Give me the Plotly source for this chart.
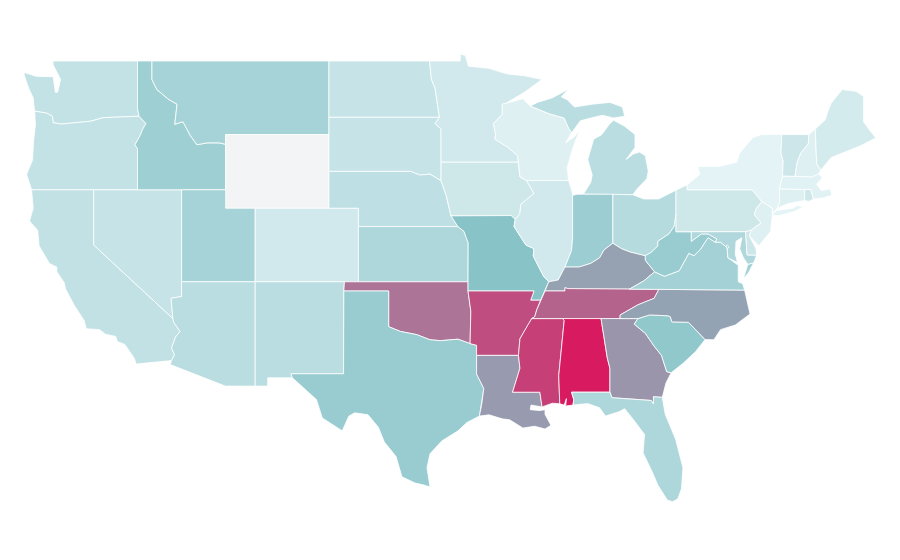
"""Choropleth of the lower 48 states, drawn as filled traces on linear lon/lat axes.

The sandbox cannot fetch plotly's topojson, so the state outlines below are
simplified lon/lat boundaries written out by hand, not survey data.
"""
import plotly.graph_objects as go
from plotly.colors import sample_colorscale

states = ['WA', 'OR', 'CA', 'NV', 'ID', 'MT', 'WY', 'UT', 'AZ', 'CO', 'NM', 'ND', 'SD', 'NE', 'KS', 'OK', 'TX',
          'MN', 'IA', 'MO', 'AR', 'LA', 'WI', 'IL', 'MS', 'MI', 'IN', 'KY', 'TN', 'AL', 'OH', 'GA', 'FL', 'SC',
          'NC', 'VA', 'WV', 'PA', 'NY', 'MD', 'DE', 'NJ', 'CT', 'RI', 'MA', 'VT', 'NH', 'ME', 'DC']
values = [17, 17, 18, 16, 31, 28, 0, 28, 21, 12, 21, 16, 16, 19, 25, 68, 33,
          12, 13, 39, 82, 54, 7, 12, 87, 21, 32, 52, 74, 100, 22, 56, 25, 36,
          51, 29, 33, 13, 5, 24, 14, 7, 7, 13, 6, 14, 7, 11, 24]
color_stops = [[0, '#f3f4f6'], [0.05, '#e4f3f5'], [0.4, '#85c2c7'], [1, '#d81b60']]

outlines = {
    'WA': [[(-122.76, 49), (-117.03, 49), (-117.03, 46.42), (-116.92, 46), (-119, 45.93), (-119.3, 45.93), (-120.2, 45.73), (-121.2, 45.65), (-122.2, 45.57), (-122.75, 45.65), (-122.8, 46), (-123.2, 46.17), (-124, 46.27), (-124.07, 46.7), (-124.1, 47), (-124.4, 47.5), (-124.7, 48.2), (-124.72, 48.38), (-123.9, 48.17), (-123.1, 48.15), (-122.75, 48.15), (-122.6, 47.3), (-122.45, 47.3), (-122.35, 47.6), (-122.25, 48), (-122.5, 48.4), (-122.75, 48.8)]],
    'OR': [[(-124, 46.27), (-123.2, 46.17), (-122.8, 46), (-122.75, 45.65), (-122.2, 45.57), (-121.2, 45.65), (-120.2, 45.73), (-119.3, 45.93), (-119, 45.93), (-116.92, 46), (-116.46, 45.6), (-116.67, 45.3), (-116.85, 44.95), (-117.2, 44.45), (-117.03, 44.23), (-117.03, 42), (-124.21, 42), (-124.55, 42.84), (-124.15, 43.6), (-124.07, 44.7), (-123.95, 45.5)]],
    'CA': [[(-124.21, 42), (-120, 42), (-120, 39), (-114.63, 35), (-114.57, 34.8), (-114.14, 34.3), (-114.45, 34), (-114.72, 33.4), (-114.52, 33.03), (-114.72, 32.72), (-117.12, 32.53), (-117.25, 32.85), (-117.9, 33.6), (-118.4, 33.75), (-118.5, 34.03), (-119.2, 34.15), (-119.6, 34.4), (-120.5, 34.45), (-120.65, 34.9), (-121.3, 35.7), (-121.9, 36.6), (-122, 36.95), (-122.5, 37.55), (-122.5, 37.8), (-123, 38), (-123.7, 38.95), (-123.8, 39.8), (-124.35, 40.3), (-124.1, 41)]],
    'NV': [[(-120, 42), (-114.04, 42), (-114.04, 36.2), (-114.75, 36.1), (-114.63, 35), (-120, 39)]],
    'ID': [[(-117.03, 49), (-116.05, 49), (-116.05, 48), (-115.72, 47.45), (-114.95, 46.93), (-114.35, 46.65), (-114.5, 45.56), (-113.95, 45.7), (-113.45, 44.95), (-113, 44.45), (-112.3, 44.55), (-111.5, 44.55), (-111.05, 44.47), (-111.05, 42), (-117.03, 42), (-117.03, 44.23), (-117.2, 44.45), (-116.85, 44.95), (-116.67, 45.3), (-116.46, 45.6), (-116.92, 46), (-117.03, 46.42)]],
    'MT': [[(-116.05, 49), (-104.05, 49), (-104.05, 45), (-111.05, 45), (-111.05, 44.47), (-111.5, 44.55), (-112.3, 44.55), (-113, 44.45), (-113.45, 44.95), (-113.95, 45.7), (-114.5, 45.56), (-114.35, 46.65), (-114.95, 46.93), (-115.72, 47.45), (-116.05, 48)]],
    'WY': [[(-111.05, 45), (-104.05, 45), (-104.05, 41), (-111.05, 41)]],
    'UT': [[(-114.04, 42), (-111.05, 42), (-111.05, 41), (-109.05, 41), (-109.05, 37), (-114.04, 37)]],
    'AZ': [[(-114.04, 37), (-109.05, 37), (-109.05, 31.33), (-111.07, 31.33), (-114.81, 32.5), (-114.72, 32.72), (-114.52, 33.03), (-114.72, 33.4), (-114.45, 34), (-114.14, 34.3), (-114.57, 34.8), (-114.63, 35), (-114.75, 36.1), (-114.04, 36.2)]],
    'CO': [[(-109.05, 41), (-102.05, 41), (-102.05, 37), (-109.05, 37)]],
    'NM': [[(-109.05, 37), (-103, 37), (-103.04, 36.5), (-103.06, 32), (-106.62, 32), (-106.53, 31.78), (-108.2, 31.78), (-108.2, 31.33), (-109.05, 31.33)]],
    'ND': [[(-104.05, 49), (-97.23, 49), (-97.1, 48), (-96.85, 47.5), (-96.56, 45.94), (-104.05, 45.94)]],
    'SD': [[(-104.05, 45.94), (-96.56, 45.94), (-96.85, 45.6), (-96.45, 45.3), (-96.45, 43.5), (-96.45, 42.49), (-97.2, 42.85), (-97.9, 42.8), (-98.5, 43), (-104.05, 43)]],
    'NE': [[(-104.05, 43), (-98.5, 43), (-97.9, 42.8), (-97.2, 42.85), (-96.45, 42.49), (-96.1, 41.7), (-95.9, 41), (-95.77, 40.58), (-95.31, 40), (-102.05, 40), (-102.05, 41), (-104.05, 41)]],
    'KS': [[(-102.05, 40), (-95.31, 40), (-94.9, 39.75), (-94.61, 39.11), (-94.62, 37), (-102.05, 37)]],
    'OK': [[(-103, 37), (-94.62, 37), (-94.62, 36.5), (-94.43, 35.4), (-94.48, 33.64), (-95.3, 33.88), (-96.5, 33.8), (-97.2, 33.85), (-98.1, 34.13), (-99.2, 34.3), (-100, 34.56), (-100, 36.5), (-103.04, 36.5)]],
    'TX': [[(-103.04, 36.5), (-100, 36.5), (-100, 34.56), (-99.2, 34.3), (-98.1, 34.13), (-97.2, 33.85), (-96.5, 33.8), (-95.3, 33.88), (-94.48, 33.64), (-94.04, 33.55), (-94.04, 33), (-94.04, 31.99), (-93.55, 31.2), (-93.7, 30.3), (-93.85, 29.7), (-94.7, 29.35), (-95.3, 28.9), (-96.4, 28.35), (-97.2, 27.65), (-97.4, 26.9), (-97.2, 25.85), (-97.6, 25.95), (-98.2, 26.06), (-99.1, 26.4), (-99.5, 27.5), (-100.3, 28.3), (-100.7, 29.1), (-101.4, 29.77), (-102.3, 29.88), (-102.7, 29.7), (-103.15, 28.9), (-104.5, 29.6), (-104.9, 30.6), (-106, 31.4), (-106.53, 31.78), (-106.62, 32), (-103.06, 32)]],
    'MN': [[(-97.23, 49), (-95.15, 49), (-95.15, 49.38), (-94.8, 49.3), (-94.6, 48.72), (-93.2, 48.6), (-92, 48.3), (-90.8, 48.2), (-89.6, 48), (-90.8, 47.3), (-92.05, 46.7), (-92.3, 46.65), (-92.3, 46.1), (-92.9, 45.6), (-92.75, 45), (-92.8, 44.75), (-91.9, 44.3), (-91.25, 43.85), (-91.22, 43.5), (-96.45, 43.5), (-96.45, 45.3), (-96.85, 45.6), (-96.56, 45.94), (-96.85, 47.5), (-97.1, 48)]],
    'IA': [[(-96.45, 43.5), (-91.22, 43.5), (-91.1, 42.7), (-90.65, 42.5), (-90.15, 41.8), (-91.05, 41.2), (-91.1, 40.7), (-91.42, 40.38), (-91.7, 40.6), (-95.77, 40.58), (-95.9, 41), (-96.1, 41.7), (-96.45, 42.49)]],
    'MO': [[(-95.77, 40.58), (-91.7, 40.6), (-91.42, 40.38), (-91.5, 40), (-90.7, 39), (-90.15, 38.8), (-90.2, 38.4), (-89.5, 37.3), (-89.15, 37), (-89.4, 36.5), (-89.7, 36), (-90.37, 36), (-90.15, 36.5), (-94.62, 36.5), (-94.62, 37), (-94.61, 39.11), (-94.9, 39.75), (-95.31, 40)]],
    'AR': [[(-94.62, 36.5), (-90.15, 36.5), (-90.37, 36), (-89.7, 36), (-89.95, 35.5), (-90.1, 35.1), (-90.3, 35), (-90.6, 34.6), (-91.1, 33.9), (-91.2, 33), (-94.04, 33), (-94.04, 33.55), (-94.48, 33.64), (-94.43, 35.4)]],
    'LA': [[(-94.04, 33), (-91.2, 33), (-91.1, 32.3), (-91.6, 31), (-89.75, 31), (-89.6, 30.2), (-90.35, 30.3), (-90.4, 30.05), (-89.75, 30), (-89.4, 30.05), (-89.4, 29.8), (-89, 29.2), (-89.4, 29), (-90.1, 29.15), (-90.9, 29.05), (-91.8, 29.5), (-92.3, 29.55), (-93.2, 29.77), (-93.85, 29.7), (-93.7, 30.3), (-93.55, 31.2), (-94.04, 31.99)]],
    'WI': [[(-92.75, 45), (-92.9, 45.6), (-92.3, 46.1), (-92.3, 46.65), (-92.05, 46.7), (-90.9, 46.95), (-90.4, 46.55), (-89.1, 46.13), (-88.1, 45.9), (-87.8, 45.35), (-87.6, 45.1), (-88, 44.55), (-87.4, 44.9), (-87.05, 45.25), (-87.5, 44.3), (-87.9, 43.2), (-87.8, 42.5), (-90.65, 42.5), (-91.1, 42.7), (-91.22, 43.5), (-91.25, 43.85), (-91.9, 44.3), (-92.8, 44.75)]],
    'IL': [[(-91.42, 40.38), (-91.1, 40.7), (-91.05, 41.2), (-90.15, 41.8), (-90.65, 42.5), (-87.8, 42.5), (-87.55, 41.85), (-87.53, 41.7), (-87.53, 39.35), (-87.6, 38.7), (-88.05, 37.8), (-88.5, 37.1), (-89.15, 37), (-89.5, 37.3), (-90.2, 38.4), (-90.15, 38.8), (-90.7, 39), (-91.5, 40)]],
    'MS': [[(-90.3, 35), (-88.2, 35), (-88.1, 34.9), (-88.47, 31.9), (-88.4, 30.37), (-88.9, 30.4), (-89.6, 30.2), (-89.75, 31), (-91.6, 31), (-91.1, 32.3), (-91.2, 33), (-91.1, 33.9), (-90.6, 34.6)]],
    'MI': [[(-86.8, 41.76), (-84.8, 41.76), (-83.45, 41.73), (-83.15, 42.05), (-82.5, 42.6), (-82.4, 43), (-82.6, 43.85), (-83, 44.05), (-83.4, 43.95), (-83.9, 43.65), (-83.3, 44.3), (-83.3, 45), (-84, 45.45), (-84.75, 45.78), (-85, 45.6), (-85.55, 45), (-86.1, 44.75), (-86.5, 43.65), (-86.2, 42.8), (-86.3, 42.4)],
           [(-90.4, 46.55), (-89.1, 46.13), (-88.1, 45.9), (-87.8, 45.35), (-87.6, 45.1), (-87, 45.75), (-86.3, 45.9), (-85.5, 46.05), (-84.75, 45.9), (-84, 46), (-84.15, 46.5), (-85, 46.75), (-86.2, 46.65), (-87.4, 46.5), (-87.9, 46.9), (-88.3, 47.05), (-87.8, 47.47), (-88.45, 47.2), (-88.9, 47), (-89.9, 46.75)]],
    'IN': [[(-87.53, 41.7), (-87.2, 41.76), (-86.8, 41.76), (-84.8, 41.76), (-84.8, 39.1), (-85.4, 38.73), (-85.7, 38.3), (-86.3, 38), (-87.1, 37.8), (-88.05, 37.8), (-87.6, 38.7), (-87.53, 39.35)]],
    'KY': [[(-89.4, 36.5), (-89.15, 37), (-88.5, 37.1), (-88.05, 37.8), (-87.1, 37.8), (-86.3, 38), (-85.7, 38.3), (-85.4, 38.73), (-84.8, 39.1), (-84.2, 38.8), (-83.65, 38.63), (-82.6, 38.42), (-82.6, 38.17), (-81.97, 37.54), (-82.7, 37.05), (-83.68, 36.6), (-87.85, 36.63), (-88.05, 36.68), (-88.05, 36.5)]],
    'TN': [[(-90.3, 35), (-90.1, 35.1), (-89.95, 35.5), (-89.7, 36), (-89.4, 36.5), (-88.05, 36.5), (-88.05, 36.68), (-87.85, 36.63), (-83.68, 36.6), (-81.68, 36.59), (-82, 36.1), (-83.1, 35.75), (-84.3, 35.2), (-84.32, 35), (-85.6, 35), (-88.2, 35)]],
    'AL': [[(-88.2, 35), (-85.6, 35), (-85.18, 32.87), (-85, 32.3), (-85, 31), (-87.6, 31), (-87.45, 30.6), (-87.5, 30.3), (-88, 30.25), (-87.95, 30.65), (-88.1, 30.3), (-88.4, 30.37), (-88.47, 31.9), (-88.1, 34.9)]],
    'OH': [[(-84.8, 41.76), (-83.45, 41.73), (-82.7, 41.5), (-81.7, 41.5), (-80.52, 41.98), (-80.52, 40.64), (-80.65, 40), (-81, 39.6), (-81.75, 39.2), (-81.75, 38.95), (-82.2, 38.6), (-82.6, 38.42), (-83.65, 38.63), (-84.2, 38.8), (-84.8, 39.1)]],
    'GA': [[(-85.6, 35), (-84.32, 35), (-83.1, 35), (-83.35, 34.7), (-82.6, 34.2), (-82, 33.5), (-81.5, 33), (-81.15, 32.12), (-80.85, 32.05), (-81.2, 31.5), (-81.45, 30.72), (-82.05, 30.75), (-82.05, 30.36), (-82.2, 30.55), (-84.86, 30.7), (-85, 31), (-85, 32.3), (-85.18, 32.87)]],
    'FL': [[(-87.6, 31), (-85, 31), (-84.86, 30.7), (-82.2, 30.55), (-82.05, 30.36), (-82.05, 30.75), (-81.45, 30.72), (-81.25, 29.8), (-80.55, 28.45), (-80.05, 26.9), (-80.15, 25.75), (-80.4, 25.2), (-80.75, 25.05), (-81.1, 25.13), (-81.75, 25.95), (-82.15, 26.7), (-82.75, 27.7), (-82.65, 28.7), (-83.4, 29.5), (-84, 30.1), (-84.35, 29.95), (-85.3, 29.7), (-85.7, 30.15), (-86.5, 30.38), (-87.5, 30.3), (-87.45, 30.6)]],
    'SC': [[(-83.1, 35), (-82.3, 35.2), (-81.05, 35.15), (-80.9, 35.1), (-80.8, 34.82), (-79.67, 34.8), (-78.55, 33.86), (-79.2, 33.2), (-80, 32.6), (-80.85, 32.05), (-81.15, 32.12), (-81.5, 33), (-82, 33.5), (-82.6, 34.2), (-83.35, 34.7)]],
    'NC': [[(-84.32, 35), (-84.3, 35.2), (-83.1, 35.75), (-82, 36.1), (-81.68, 36.59), (-75.87, 36.55), (-75.5, 35.25), (-76.5, 34.65), (-77.5, 34.4), (-77.95, 33.85), (-78.55, 33.86), (-79.67, 34.8), (-80.8, 34.82), (-80.9, 35.1), (-81.05, 35.15), (-82.3, 35.2), (-83.1, 35)]],
    'VA': [[(-83.68, 36.6), (-81.68, 36.59), (-75.87, 36.55), (-76, 36.9), (-76.3, 37), (-76.3, 37.9), (-77, 38.3), (-77.05, 38.85), (-77.5, 39.15), (-77.85, 39.15), (-78.35, 39.4), (-78.87, 38.76), (-79.3, 38.42), (-79.65, 38.55), (-80.3, 37.6), (-81.3, 37.3), (-81.97, 37.54), (-82.7, 37.05)],
           [(-75.95, 37.15), (-75.65, 37.95), (-75.25, 38.03), (-75.6, 37.5)]],
    'WV': [[(-80.52, 40.64), (-80.52, 39.72), (-79.48, 39.72), (-79.48, 39.2), (-78.8, 39.6), (-78.35, 39.6), (-77.75, 39.33), (-77.85, 39.15), (-78.35, 39.4), (-78.87, 38.76), (-79.3, 38.42), (-79.65, 38.55), (-80.3, 37.6), (-81.3, 37.3), (-81.97, 37.54), (-82.6, 38.17), (-82.6, 38.42), (-82.2, 38.6), (-81.75, 38.95), (-81.75, 39.2), (-81, 39.6), (-80.65, 40)]],
    'PA': [[(-80.52, 41.98), (-79.76, 42.27), (-79.76, 42), (-75.35, 42), (-74.7, 41.36), (-75.1, 40.95), (-75.2, 40.65), (-74.75, 40.2), (-75.4, 39.82), (-75.8, 39.72), (-80.52, 39.72)]],
    'NY': [[(-79.76, 42.27), (-78.9, 42.85), (-79.05, 43.27), (-77.6, 43.27), (-76.4, 43.5), (-76.2, 44), (-75.3, 44.85), (-74.7, 45), (-73.35, 45), (-73.4, 44), (-73.25, 43.55), (-73.3, 42.75), (-73.5, 42.05), (-73.5, 41.3), (-73.65, 41), (-73.95, 40.75), (-74, 41), (-74.7, 41.36), (-75.35, 42), (-79.76, 42)],
           [(-74.03, 40.6), (-73.7, 40.88), (-72.6, 41), (-72.3, 41.15), (-71.87, 41.07), (-72.5, 40.82), (-73.5, 40.6)]],
    'MD': [[(-79.48, 39.72), (-75.8, 39.72), (-75.7, 38.46), (-75.05, 38.45), (-75.25, 38.03), (-75.65, 37.95), (-75.95, 38.3), (-76.2, 38.8), (-76.05, 39.4), (-76.45, 39.2), (-76.5, 38.5), (-76.35, 38.05), (-77, 38.3), (-77.05, 38.85), (-77.5, 39.15), (-77.85, 39.15), (-77.75, 39.33), (-78.35, 39.6), (-78.8, 39.6), (-79.48, 39.2)]],
    'DE': [[(-75.8, 39.72), (-75.4, 39.82), (-75.55, 39.5), (-75.1, 38.8), (-75.05, 38.45), (-75.7, 38.46)]],
    'NJ': [[(-74.7, 41.36), (-74, 41), (-74, 40.5), (-74.1, 39.75), (-74.9, 38.95), (-75.55, 39.5), (-75.4, 39.82), (-74.75, 40.2), (-75.2, 40.65), (-75.1, 40.95)]],
    'CT': [[(-73.5, 42.05), (-71.8, 42.02), (-71.8, 41.42), (-72.9, 41.25), (-73.65, 41), (-73.5, 41.3)]],
    'RI': [[(-71.8, 42.02), (-71.38, 42.02), (-71.2, 41.5), (-71.5, 41.37), (-71.8, 41.42)]],
    'MA': [[(-73.5, 42.05), (-73.3, 42.75), (-71.3, 42.7), (-70.85, 42.87), (-70.6, 42.65), (-71, 42.3), (-70.65, 41.95), (-70.05, 42.05), (-69.95, 41.7), (-70.6, 41.55), (-71.2, 41.5), (-71.38, 42.02), (-71.8, 42.02)]],
    'VT': [[(-73.35, 45), (-71.5, 45), (-71.55, 44.5), (-72.05, 44), (-72.3, 43.5), (-72.45, 42.73), (-73.3, 42.75), (-73.25, 43.55), (-73.4, 44)]],
    'NH': [[(-71.5, 45), (-71.08, 45.3), (-70.98, 43.4), (-70.7, 43.07), (-70.85, 42.87), (-71.3, 42.7), (-72.45, 42.73), (-72.3, 43.5), (-72.05, 44), (-71.55, 44.5)]],
    'ME': [[(-71.08, 45.3), (-70.4, 45.8), (-70.25, 46.2), (-70, 46.7), (-69.25, 47.45), (-68.3, 47.35), (-67.8, 47.07), (-67.8, 45.7), (-67.45, 45.3), (-66.97, 44.82), (-68, 44.4), (-69.05, 44.05), (-70, 43.75), (-70.7, 43.07), (-70.98, 43.4)]],
    'DC': [[(-77.12, 38.93), (-77.04, 39), (-76.91, 38.9), (-77.04, 38.79)]],
}

fig = go.Figure()
for state, value in zip(states, values):
    lons, lats = [], []
    for ring in outlines[state]:
        lons += [p[0] for p in ring] + [ring[0][0], None]
        lats += [p[1] for p in ring] + [ring[0][1], None]
    fill = sample_colorscale(color_stops, [value / 100])[0]
    fig.add_trace(go.Scatter(x=lons, y=lats, mode='lines', fill='toself', fillcolor=fill,
                             line=dict(color='white', width=0.8), name=state,
                             hovertemplate=state + ': %{text}<extra></extra>', text=[value] * len(lons)))

# ranges are offset to cancel the 8px body margin of the written page
fig.update_xaxes(visible=False, range=[-125.81, -64.79], fixedrange=True)
fig.update_yaxes(visible=False, range=[21.445, 51.88], fixedrange=True)
fig.update_layout(width=900, height=560, margin=dict(l=0, r=0, t=0, b=0), showlegend=False,
                  paper_bgcolor='white', plot_bgcolor='white')
fig.write_html("out.html")
